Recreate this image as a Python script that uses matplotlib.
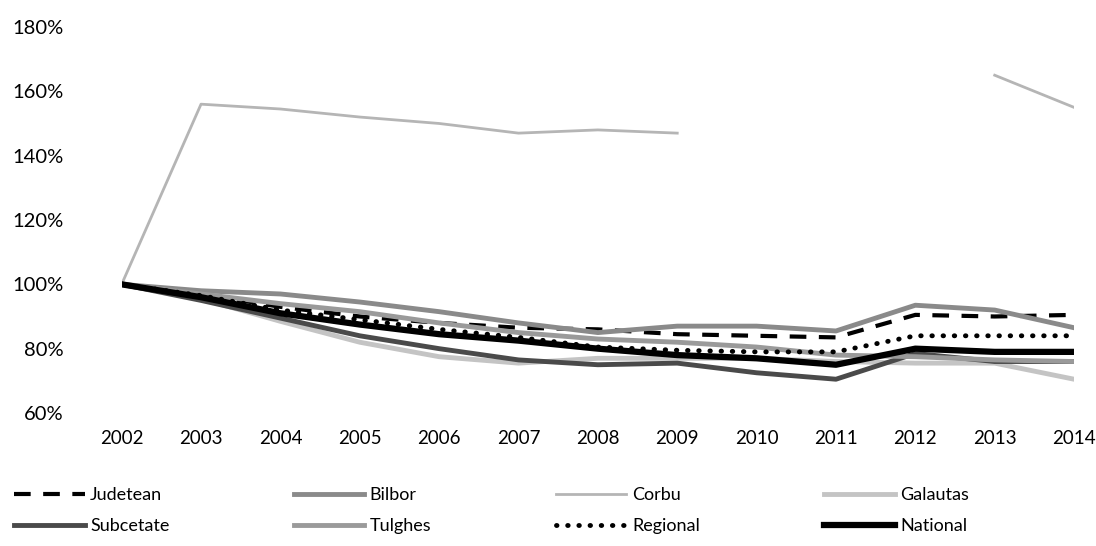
import numpy as np
import matplotlib
matplotlib.use("Agg")
from matplotlib import pyplot as plt

plt.rcParams['font.family'] = ['Lato', 'DejaVu Sans']

years = list(range(2002, 2015))

judetean  = [100, 97, 93, 90, 88, 86.5, 86, 84.5, 84, 83.5, 90.5, 90, 90.5]
bilbor    = [100, 98, 97, 94.5, 91.5, 88, 85, 87, 87, 85.5, 93.5, 92, 86.5]
corbu     = [100, 156, 154.5, 152, 150, 147, 148, 147, np.nan, np.nan, np.nan, 165, 155]
galautas  = [100, 95.5, 88.5, 82, 77.5, 75.5, 77, 77, 77, 76, 75.5, 75.5, 70.5]
subcetate = [100, 95, 89.5, 84, 80, 76.5, 75, 75.5, 72.5, 70.5, 78.5, 76, 76]
tulghes   = [100, 97, 94, 91.5, 88, 85, 83, 82, 80.5, 78, 77.5, 76.5, 76]
regional  = [100, 96.5, 92, 89, 86, 83.5, 80.5, 79.5, 79, 79, 84, 84, 84]
national  = [100, 96, 91, 87.5, 84.5, 82.5, 80, 78, 77, 75, 80, 79, 79]

fig = plt.figure(figsize=(10.96, 5.46), dpi=100)
ax = fig.add_axes([0.111, 0.2436, 0.869, 0.707])

lines = {}
lines['Judetean'], = ax.plot(years, judetean, color='black', lw=3, dashes=(4, 3), label='Judetean')
lines['Bilbor'], = ax.plot(years, bilbor, color='#8a8a8a', lw=3.5, label='Bilbor')
lines['Corbu'], = ax.plot(years, corbu, color='#b5b5b5', lw=2, label='Corbu')
lines['Galautas'], = ax.plot(years, galautas, color='#c4c4c4', lw=3.5, label='Galautas')
lines['Subcetate'], = ax.plot(years, subcetate, color='#4a4a4a', lw=3.5, label='Subcetate')
lines['Tulghes'], = ax.plot(years, tulghes, color='#9a9a9a', lw=3.5, label='Tulghes')
lines['Regional'], = ax.plot(years, regional, color='black', lw=3.5, linestyle=(0, (0.1, 2.2)),
                             dash_capstyle='round', label='Regional')
lines['National'], = ax.plot(years, national, color='black', lw=4.5, label='National')

ax.set_xlim(2002, 2014)
ax.set_ylim(60, 180)
ax.set_xticks(years)
ax.set_yticks(range(60, 181, 20))
ax.set_yticklabels([f"{v}%" for v in range(60, 181, 20)])
ax.tick_params(axis='both', length=0)
ax.tick_params(axis='y', pad=42, labelsize=14.5)
ax.tick_params(axis='x', pad=12, labelsize=13.5)
for s in ax.spines.values():
    s.set_visible(False)

order = ['Judetean', 'Subcetate', 'Bilbor', 'Tulghes', 'Corbu', 'Regional', 'Galautas', 'National']
fig.legend([lines[k] for k in order], order, ncol=4, frameon=False,
           loc='upper left', bbox_to_anchor=(0.013, 0.108), fontsize=13,
           handlelength=3.9, handletextpad=0.3, columnspacing=6.9,
           labelspacing=0.85, borderpad=0, borderaxespad=0)

fig.savefig("out.png", dpi=100)
